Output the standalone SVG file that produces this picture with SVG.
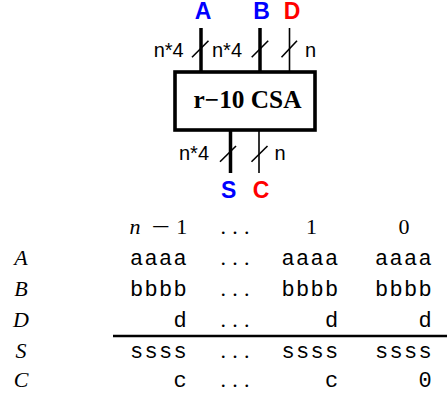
<svg xmlns="http://www.w3.org/2000/svg" width="447" height="398" viewBox="0 0 447 398">
  <style>
    .bus { stroke: #000; stroke-width: 3.5; fill: none; }
    .wire { stroke: #000; stroke-width: 1.6; fill: none; }
    .slash { stroke: #000; stroke-width: 1.6; fill: none; }
    .width { font-family: "Liberation Sans", Arial, sans-serif; font-size: 20px; fill: #000; }
    .port { font-family: "Liberation Sans", Arial, sans-serif; font-size: 23px; font-weight: bold; text-anchor: middle; }
    .blue { fill: #0000ff; }
    .red { fill: #ff0000; }
    .title { font-family: "Liberation Serif", "Times New Roman", serif; font-size: 24.5px; font-weight: bold; fill: #000; }
    .math { font-family: "Liberation Serif", "Times New Roman", serif; font-size: 22px; fill: #000; }
    .it { font-style: italic; }
    .tt { font-family: "Liberation Mono", "Courier New", monospace; font-size: 22px; letter-spacing: 1.3px; fill: #000; }
    .dots { font-family: "Liberation Serif", "Times New Roman", serif; font-size: 22px; letter-spacing: 6.25px; fill: #000; }
  </style>

  <!-- carry-save adder block -->
  <g id="csa">
    <rect x="175" y="72" width="140" height="58" fill="#fff" stroke="#000" stroke-width="3.6"/>
    <text class="title" x="193.5" y="108" textLength="108" lengthAdjust="spacingAndGlyphs">r−10 CSA</text>
  </g>

  <!-- port names -->
  <g id="in-a"><text class="port blue" x="203" y="19">A</text></g>
  <g id="in-b"><text class="port blue" x="261.5" y="19">B</text></g>
  <g id="in-d"><text class="port red" x="292" y="19">D</text></g>
  <g id="out-s"><text class="port blue" x="228.7" y="197.5">S</text></g>
  <g id="out-c"><text class="port red" x="261" y="197.5">C</text></g>

  <!-- buses and wires with width marks -->
  <g id="connectors">
    <line class="bus" x1="201" y1="28" x2="201" y2="72"/>
    <line class="bus" x1="260" y1="28" x2="260" y2="72"/>
    <line class="wire" x1="289.5" y1="28" x2="289.5" y2="72"/>
    <line class="bus" x1="230.5" y1="130" x2="230.5" y2="173"/>
    <line class="wire" x1="259" y1="130" x2="259" y2="173"/>

    <line class="slash" x1="192" y1="57.3" x2="208.5" y2="40.8"/>
    <line class="slash" x1="251.7" y1="57.3" x2="268.2" y2="40.8"/>
    <line class="slash" x1="281.5" y1="57.3" x2="297" y2="40.8"/>
    <line class="slash" x1="220" y1="161.7" x2="236" y2="146"/>
    <line class="slash" x1="251.5" y1="161.7" x2="267.5" y2="146"/>

    <text class="width" x="153.7" y="56.5">n*4</text>
    <text class="width" x="212" y="56.5">n*4</text>
    <text class="width" x="305" y="56.5">n</text>
    <text class="width" x="179" y="160">n*4</text>
    <text class="width" x="274.5" y="160">n</text>
  </g>

  <!-- digit alignment of the addition -->
  <g id="digit-table">
    <!-- column headings -->
    <text class="math it" x="129.5" y="233.5">n</text>
    <text class="math" x="151.5" y="233.5" textLength="18.5" lengthAdjust="spacingAndGlyphs">−</text>
    <text class="math" x="181.7" y="233.5" text-anchor="middle">1</text>
    <text class="dots" x="220.5" y="233.5">...</text>
    <text class="math" x="311.5" y="233.5" text-anchor="middle">1</text>
    <text class="math" x="404" y="233.5" text-anchor="middle">0</text>

    <!-- row names -->
    <text class="math it" x="21" y="265" text-anchor="middle">A</text>
    <text class="math it" x="21" y="295.5" text-anchor="middle">B</text>
    <text class="math it" x="21" y="326.5" text-anchor="middle">D</text>
    <text class="math it" x="21" y="357.5" text-anchor="middle">S</text>
    <text class="math it" x="21" y="386.5" text-anchor="middle">C</text>

    <!-- A -->
    <text class="tt" x="130" y="265">aaaa</text>
    <text class="dots" x="220.5" y="265">...</text>
    <text class="tt" x="281.5" y="265">aaaa</text>
    <text class="tt" x="375" y="265">aaaa</text>

    <!-- B -->
    <text class="tt" x="130" y="295.5">bbbb</text>
    <text class="dots" x="220.5" y="295.5">...</text>
    <text class="tt" x="281.5" y="295.5">bbbb</text>
    <text class="tt" x="375" y="295.5">bbbb</text>

    <!-- D -->
    <text class="tt" x="173.5" y="326.5">d</text>
    <text class="dots" x="220.5" y="326.5">...</text>
    <text class="tt" x="325" y="326.5">d</text>
    <text class="tt" x="418.5" y="326.5">d</text>

    <line x1="113" y1="336" x2="447" y2="336" stroke="#000" stroke-width="2.6"/>

    <!-- S -->
    <text class="tt" x="130" y="357.5">ssss</text>
    <text class="dots" x="220.5" y="357.5">...</text>
    <text class="tt" x="281.5" y="357.5">ssss</text>
    <text class="tt" x="375" y="357.5">ssss</text>

    <!-- C -->
    <text class="tt" x="173.5" y="386.5">c</text>
    <text class="dots" x="220.5" y="386.5">...</text>
    <text class="tt" x="325" y="386.5">c</text>
    <text class="tt" x="418.5" y="386.5">0</text>
  </g>
</svg>
